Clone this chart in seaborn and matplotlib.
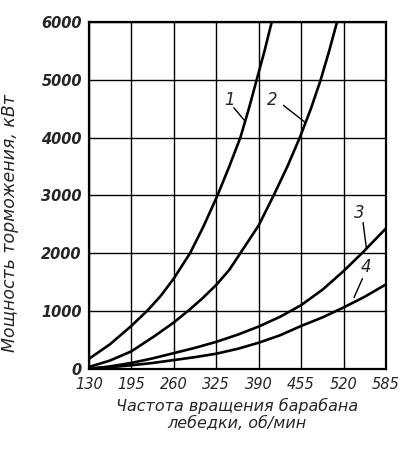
import matplotlib
matplotlib.use("Agg")
import matplotlib.pyplot as plt
import seaborn as sns

# drum speed, rpm  /  braking power, kW
x1 = [130, 162, 195, 220, 240, 260, 285, 305, 327, 345, 362, 375, 387, 399, 410]
y1 = [170, 420, 740, 1010, 1260, 1560, 2000, 2450, 3000, 3500, 4000, 4500, 5000, 5500, 6000]

x2 = [130, 162, 195, 230, 260, 285, 305, 325, 345, 362, 390, 413, 434, 453, 470, 485, 498, 510]
y2 = [30, 140, 300, 560, 800, 1030, 1230, 1450, 1710, 2000, 2480, 3000, 3500, 4000, 4500,
      5000, 5500, 6000]

x3 = [130, 162, 195, 228, 260, 292, 325, 358, 390, 423, 455, 488, 520, 550, 585]
y3 = [0, 40, 100, 180, 270, 360, 465, 590, 730, 900, 1100, 1370, 1690, 2020, 2430]

x4 = [130, 162, 195, 228, 260, 292, 325, 358, 390, 423, 455, 488, 520, 553, 585]
y4 = [0, 25, 60, 100, 150, 200, 260, 345, 450, 580, 740, 890, 1060, 1250, 1460]

curve_labels = ["1", "2", "3", "4"]
x_ticks = [130, 195, 260, 325, 390, 455, 520, 585]
y_ticks = [0, 1000, 2000, 3000, 4000, 5000, 6000]

sns.set_style("white")
plt.rcParams['font.family'] = ['DejaVu Sans']

fig = plt.figure(figsize=(4.15, 4.53), dpi=100)
ax = fig.add_axes([0.214, 0.186, 0.716, 0.765])

for xs, ys in [(x1, y1), (x2, y2), (x3, y3), (x4, y4)]:
    sns.lineplot(x=xs, y=ys, ax=ax, color="black", linewidth=1.9)

ax.set_xlim(130, 585)
ax.set_ylim(0, 6000)
ax.set_xticks(x_ticks)
ax.set_yticks(y_ticks)
ax.set_xticklabels([str(v) for v in x_ticks], fontstyle="italic", fontsize=10.5)
ax.set_yticklabels([str(v) for v in y_ticks], fontstyle="italic", fontsize=10.5,
                   fontweight="bold")
ax.tick_params(axis="y", length=0, pad=5)
ax.tick_params(axis="x", length=0, pad=6)
ax.grid(True, color="black", linewidth=1.0)
for sp in ax.spines.values():
    sp.set_color("black")
    sp.set_linewidth(1.6)

# curve numbers with leader lines
label_pos = [(345, 4650), (411, 4650), (544, 2700), (554, 1760)]
leaders = [((352, 4520), (369, 4290)), ((428, 4560), (462, 4260)),
           ((550, 2530), (555, 2090)), ((549, 1560), (536, 1230))]
for lab, (tx, ty), ((ax0, ay0), (ax1, ay1)) in zip(curve_labels, label_pos, leaders):
    ax.text(tx, ty, lab, fontsize=12, fontstyle="italic", ha="center", va="center")
    ax.plot([ax0, ax1], [ay0, ay1], color="black", linewidth=1.0)

ax.set_xlabel("Частота вращения барабана\nлебедки, об/мин", fontstyle="italic",
              fontsize=11.5, labelpad=4, linespacing=1.15)
ax.set_ylabel("Мощность торможения, кВт", fontstyle="italic", fontsize=12.5)
ax.yaxis.set_label_coords(-0.235, 0.42)

fig.savefig("out.png", dpi=100)
